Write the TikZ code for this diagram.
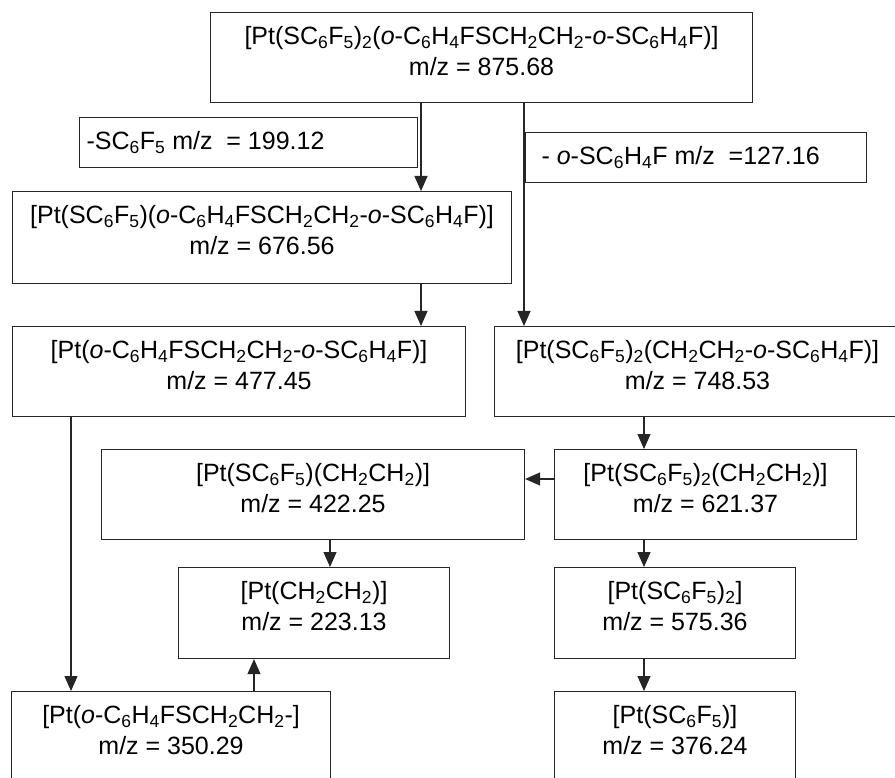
\documentclass[tikz,border=0pt]{standalone}
\usepackage{fontspec}
\setmainfont{Liberation Sans}
\usetikzlibrary{arrows.meta}
\newcommand\sbs[1]{\textsubscript{#1}}
\newcommand\ort{\textit{o}}
\newcommand\twol[4]{\parbox[c][#2pt][t]{#1pt}{\centering\rule{0pt}{32pt}#3\\#4}}
\newcommand\onel[4]{\parbox[c][#2pt][c]{#1pt}{\hspace*{#3pt}#4}}
\begin{document}
\begin{tikzpicture}[x=1pt,y=-1pt,
  box/.style={draw=black!85,line width=1.1pt,anchor=north west,inner sep=0pt,
    font=\fontsize{25}{31}\selectfont},
  arr/.style={draw=black!85,line width=1.1pt,-{Triangle[width=13pt,length=15pt]}}]
\clip (0,0) rectangle (895,778);
\fill[white] (0,0) rectangle (895,778);
\node[box] (top) at (210,12) {\twol{542}{90}{[Pt(SC\sbs6F\sbs5)\sbs2(\ort-C\sbs6H\sbs4FSCH\sbs2CH\sbs2-\ort-SC\sbs6H\sbs4F)]}{m/z = 875.68}};
\node[box] (lab1) at (79,117) {\onel{338}{50}{7}{-SC\sbs6F\sbs5 m/z\ \ = 199.12}};
\node[box] (lab2) at (525,132) {\onel{341}{50}{16}{- \ort-SC\sbs6H\sbs4F m/z\ \ =127.16}};
\node[box] (b2) at (12,191) {\twol{499}{92}{[Pt(SC\sbs6F\sbs5)(\ort-C\sbs6H\sbs4FSCH\sbs2CH\sbs2-\ort-SC\sbs6H\sbs4F)]}{m/z = 676.56}};
\node[box] (b3) at (12,326) {\twol{453}{90}{[Pt(\ort-C\sbs6H\sbs4FSCH\sbs2CH\sbs2-\ort-SC\sbs6H\sbs4F)]}{m/z = 477.45}};
\node[box] (b4) at (494,326) {\twol{406}{90}{[Pt(SC\sbs6F\sbs5)\sbs2(CH\sbs2CH\sbs2-\ort-SC\sbs6H\sbs4F)]}{m/z = 748.53}};
\node[box] (b5) at (101,449) {\twol{423}{90}{[Pt(SC\sbs6F\sbs5)(CH\sbs2CH\sbs2)]}{m/z = 422.25}};
\node[box] (b6) at (554,449) {\twol{302}{90}{[Pt(SC\sbs6F\sbs5)\sbs2(CH\sbs2CH\sbs2)]}{m/z = 621.37}};
\node[box] (b7) at (178,567) {\twol{271}{91}{[Pt(CH\sbs2CH\sbs2)]}{m/z = 223.13}};
\node[box] (b8) at (554,567) {\twol{241}{91}{[Pt(SC\sbs6F\sbs5)\sbs2]}{m/z = 575.36}};
\node[box] (b9) at (554,691) {\twol{241}{100}{[Pt(SC\sbs6F\sbs5)]}{m/z = 376.24}};
\node[box] (b10) at (11,691) {\twol{319}{100}{[Pt(\ort-C\sbs6H\sbs4FSCH\sbs2CH\sbs2-]}{m/z = 350.29}};
\draw[arr] (top.south -| 421,0) -- (b2.north -| 421,0);
\draw[arr] (top.south -| 524,0) -- (b4.north -| 524,0);
\draw[arr] (b2.south -| 421,0) -- (b3.north -| 421,0);
\draw[arr] (b4.south -| 644,0) -- (b6.north -| 644,0);
\draw[arr] (b6.west |- 0,479) -- (b5.east |- 0,479);
\draw[arr] (b5.south -| 330,0) -- (b7.north -| 330,0);
\draw[arr] (b6.south -| 644,0) -- (b8.north -| 644,0);
\draw[arr] (b8.south -| 644,0) -- (b9.north -| 644,0);
\draw[arr] (b3.south -| 71,0) -- (b10.north -| 71,0);
\draw[arr] (b10.north -| 254,0) -- (b7.south -| 254,0);
\end{tikzpicture}
\end{document}
